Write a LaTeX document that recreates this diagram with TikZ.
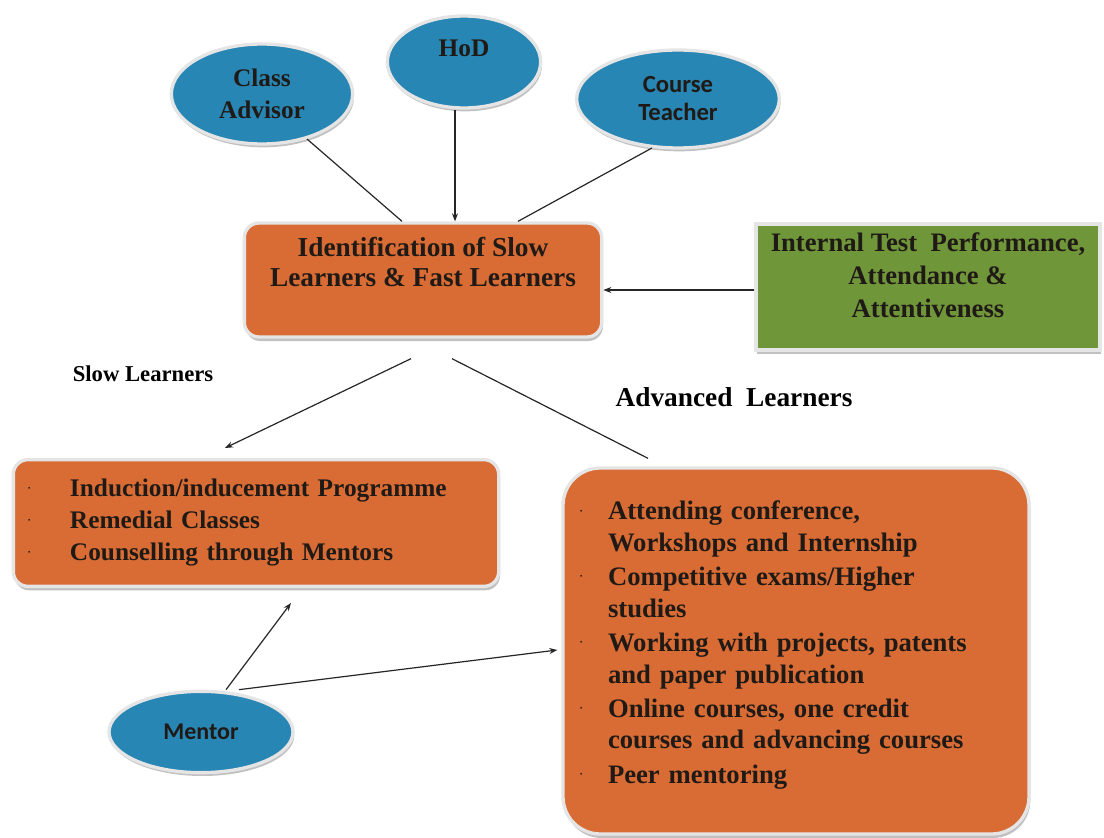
\documentclass[tikz,border=0pt]{standalone}
\usepackage{fontspec}
\setmainfont{Liberation Serif}
\newfontfamily\calibri{Carlito}
\usetikzlibrary{shapes.geometric,shadows,arrows.meta,calc}

\definecolor{roleblue}{RGB}{40,134,180}
\definecolor{boxorange}{RGB}{216,108,52}
\definecolor{boxgreen}{RGB}{112,150,58}
\definecolor{inkdark}{RGB}{32,26,22}

\newcommand{\bul}[1][21pt]{\makebox[#1][l]{\raisebox{5pt}{\tiny\textbullet}}}

\tikzset{every picture/.style={line width=0.75pt}}
\tikzset{
  role/.style={ellipse, fill=roleblue, draw=white!80!gray, line width=2.5pt, inner sep=0pt, align=center,
    text=inkdark, drop shadow={shadow xshift=1pt, shadow yshift=-2.5pt, fill=gray!80, opacity=0.6}},
  panel/.style={rectangle, rounded corners=11pt, fill=boxorange, draw=white!80!gray, line width=2.5pt,
    text=inkdark, drop shadow={shadow xshift=1pt, shadow yshift=-3pt, fill=gray!80, opacity=0.6}},
  link/.style={draw=black!85, line width=0.9pt},
  arr/.style={link, -{Stealth[length=6pt,width=4.5pt]}},
}

\begin{document}
\begin{tikzpicture}[x=0.75pt,y=0.75pt,yscale=-1,xscale=1]
\useasboundingbox[fill=white] (0,0) rectangle (1104,838);

%Shape: Ellipse [role nodes]
\node[role, minimum width=136pt, minimum height=75pt, font=\bfseries\fontsize{19}{24}\selectfont] (classadv) at (262,94) {Class\\Advisor};
\node[role, minimum width=115pt, minimum height=69pt, text depth=21pt, font=\bfseries\fontsize{19}{24}\selectfont] (hod) at (464,62) {HoD};
\node[role, minimum width=152pt, minimum height=73.5pt, font=\calibri\bfseries\fontsize{18.5}{21}\selectfont] (course) at (678,99) {Course\\Teacher};
\node[role, minimum width=138pt, minimum height=61pt, font=\calibri\bfseries\fontsize{18}{21}\selectfont] (mentor) at (201,732) {Mentor};

%Shape: Rectangle [identification]
\node[panel, minimum width=268pt, minimum height=85.5pt, align=center, text depth=26.5pt,
  font=\bfseries\fontsize{20.5}{22.5}\selectfont] (ident) at (423,280) {Identification of Slow\\Learners \& Fast Learners};
\node[panel, rounded corners=0pt, fill=boxgreen, minimum width=258pt, minimum height=94.5pt, align=center, text depth=17.3pt,
  font=\bfseries\fontsize{20}{24.75}\selectfont] (internal) at (928,287) {Internal Test\enspace Performance,\\Attendance \&\\Attentiveness};

% Text Node
\node[font=\bfseries\fontsize{17}{20}\selectfont, text=black] (slowlbl) at (143,374) {Slow Learners};
% Text Node
\node[font=\bfseries\fontsize{20.5}{24}\selectfont, text=black] (advlbl) at (734,397) {Advanced\enspace Learners};

%Shape: Rectangle [slow learners]
\node[panel, minimum width=364pt, minimum height=95pt, inner xsep=11pt, text width=342pt, align=left,
  font=\bfseries\fontsize{19}{24}\selectfont] (slowbox) at (256,523) {%
  \bul[31.5pt]Induction/inducement Programme\\
  \bul[31.5pt]Remedial Classes\\
  \bul[31.5pt]Counselling through Mentors};
%Shape: Rectangle [advanced learners]
\node[panel, rounded corners=28pt, minimum width=349.5pt, minimum height=274.5pt, inner xsep=12.75pt, text width=324pt,
  align=left, text depth=211pt, font=\bfseries\fontsize{20}{23.6}\selectfont] (advbox) at (796,651) {%
  \bul Attending conference,\\
  \hspace*{21pt}Workshops and Internship\\[2.25pt]
  \bul Competitive exams/Higher\\
  \hspace*{21pt}studies\\[2.25pt]
  \bul Working with projects, patents\\
  \hspace*{21pt}and paper publication\\[2.25pt]
  \bul Online courses, one credit\\
  \hspace*{21pt}courses and advancing courses\\[2.25pt]
  \bul Peer mentoring};

%Straight Lines
\draw[link] (classadv.-45) -- ($(ident.north)+(-21,0)$);
\draw[arr] ($(hod.south)+(-9,0)$) -- ($(ident.north)+(32,0)$);
\draw[link] (course.242) -- ($(ident.north)+(95,0)$);
\draw[arr] ($(internal.west)+(0,3)$) -- ($(ident.east)+(0,10)$);
\draw[arr] ($(ident.south)+(-12,20)$) -- ($(slowbox.north)+(-31,-10)$);
\draw[link] ($(ident.south)+(29,20)$) -- ($(advbox.north)+(-148,-8)$);
\draw[arr] ($(mentor.north)+(25,0)$) -- ($(slowbox.south)+(35,15)$);
\draw[arr] ($(mentor.north)+(38,0)$) -- ($(advbox.west)+(-4,-1)$);

\end{tikzpicture}
\end{document}
